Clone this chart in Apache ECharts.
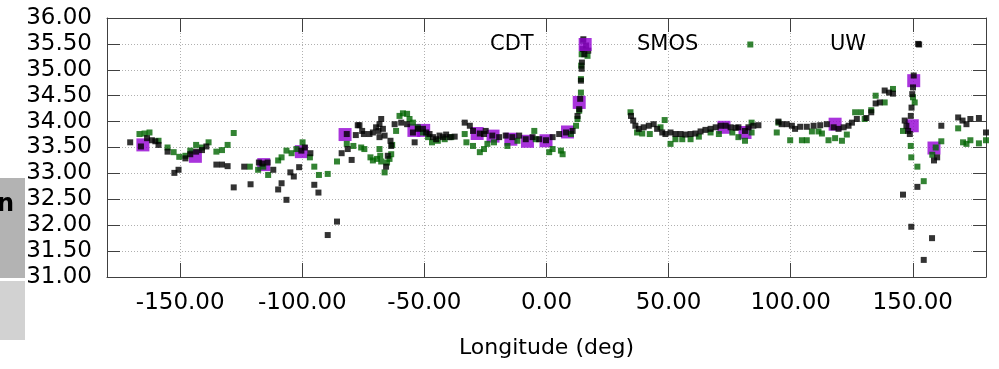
<!DOCTYPE html>
<html>
<head>
<meta charset="utf-8">
<script src="https://cdn.jsdelivr.net/npm/echarts@6.0.0/dist/echarts.min.js"></script>
<style>
  html, body { margin: 0; padding: 0; background: #fff; }
  #chart { width: 999px; height: 369px; }
</style>
</head>
<body>
<div id="chart"></div>
<script>
// tick labels
const lonTicks = [-150, -100, -50, 0, 50, 100, 150]
const salMin = 31
const salMax = 36
const salStep = 0.5

// [longitude, salinity]
const cdtPoints = [
  [-165.3, 33.55], [-143.8, 33.33], [-115.8, 33.17], [-100.4, 33.42], [-82.5, 33.75],
  [-54.3, 33.83], [-50.3, 33.83], [-28.4, 33.77], [-21.9, 33.72], [-14.6, 33.66],
  [-7.8, 33.62], [-0.2, 33.63], [8.6, 33.80], [13.4, 34.37], [72.7, 33.89],
  [81.3, 33.79], [118.2, 33.95], [149.8, 33.92], [150.4, 34.79], [158.7, 33.49]
]

const smosPoints = [
  [-166.7, 33.76], [-164.6, 33.77], [-162.6, 33.79], [-158.9, 33.63], [-155.2, 33.50],
  [-152.7, 33.41], [-150.4, 33.32], [-147.9, 33.34], [-145.9, 33.44], [-143.5, 33.55],
  [-141.1, 33.50], [-138.4, 33.60], [-135.2, 33.42], [-132.9, 33.45], [-130.6, 33.55],
  [-128.1, 33.78], [-121.5, 33.13], [-118.1, 33.07], [-116.0, 33.13], [-114.0, 32.97],
  [-109.9, 33.25], [-108.5, 33.31], [-106.5, 33.44], [-104.4, 33.39], [-102.4, 33.47],
  [-99.9, 33.60], [-96.9, 33.31], [-95.1, 33.13], [-93.2, 32.97], [-89.6, 32.99],
  [-85.8, 33.23], [-81.8, 33.57], [-79.1, 33.53], [-75.9, 33.50], [-74.6, 33.47],
  [-72.1, 33.31], [-71.1, 33.25], [-69.4, 33.28], [-68.4, 33.47], [-68.1, 33.34],
  [-67.7, 33.23], [-66.3, 33.02], [-65.3, 33.21], [-64.3, 33.28], [-63.6, 33.37],
  [-63.2, 33.55], [-61.6, 33.82], [-60.2, 34.11], [-58.8, 34.16], [-57.1, 34.15],
  [-56.1, 34.05], [-54.7, 33.98], [-52.7, 33.89], [-50.6, 33.79], [-48.5, 33.70],
  [-46.9, 33.60], [-44.5, 33.63], [-41.7, 33.66], [-39.0, 33.70], [-33.5, 33.76],
  [-32.8, 33.60], [-30.1, 33.53], [-27.3, 33.41], [-25.6, 33.47], [-24.2, 33.57],
  [-21.5, 33.60], [-16.0, 33.53], [-11.9, 33.63], [-5.0, 33.82], [-4.4, 33.66],
  [1.1, 33.41], [2.5, 33.47], [5.9, 33.44], [6.6, 33.37], [10.0, 33.76],
  [12.1, 33.92], [12.7, 34.05], [13.4, 34.21], [14.1, 34.56], [14.1, 34.82],
  [14.2, 35.08], [14.4, 35.30], [14.9, 35.56], [16.8, 35.27],
  [34.4, 34.18], [37.1, 33.79], [39.2, 33.77], [42.3, 33.76], [46.7, 33.89],
  [48.4, 34.03], [50.8, 33.57], [52.8, 33.66], [55.6, 33.66], [59.0, 33.66],
  [62.4, 33.71], [67.2, 33.79], [70.6, 33.76], [76.1, 33.79], [78.6, 33.70],
  [81.3, 33.63], [84.0, 33.98], [84.0, 33.79], [94.3, 33.79], [95.0, 33.98],
  [99.8, 33.64], [104.6, 33.64], [106.6, 33.64], [108.7, 33.81], [111.4, 33.81],
  [112.8, 33.77], [115.5, 33.64], [118.2, 33.68], [121.0, 33.63], [123.0, 33.75],
  [126.4, 34.18], [128.8, 34.18], [130.3, 34.05], [133.0, 34.22], [134.8, 34.50],
  [138.5, 34.37], [141.9, 34.63], [146.0, 33.82], [149.2, 33.53], [149.4, 33.31],
  [150.1, 34.47], [150.8, 34.37], [151.9, 33.13], [154.5, 32.85], [158.0, 33.36],
  [159.4, 33.50], [161.7, 33.62], [168.6, 33.87], [170.6, 33.60], [172.0, 33.57],
  [173.6, 33.64], [177.1, 33.58], [180.0, 33.64]
]

const uwPoints = [
  [-170.5, 33.60], [-166.1, 33.52], [-163.6, 33.68], [-161.6, 33.64], [-160.2, 33.62],
  [-158.9, 33.55], [-155.2, 33.42], [-152.4, 33.01], [-150.7, 33.07], [-147.9, 33.29],
  [-145.9, 33.37], [-143.5, 33.42], [-141.1, 33.45], [-139.3, 33.52], [-135.2, 33.17],
  [-132.9, 33.17], [-130.6, 33.14], [-128.1, 32.73], [-123.8, 33.13], [-121.2, 32.79],
  [-117.8, 33.21], [-116.4, 33.19], [-114.2, 33.21], [-111.9, 33.07], [-109.9, 32.69],
  [-108.5, 32.81], [-106.5, 32.49], [-104.9, 33.02], [-103.5, 32.94], [-101.3, 33.12],
  [-100.4, 33.44], [-99.0, 33.50], [-96.7, 33.39], [-95.1, 32.78], [-93.4, 32.63],
  [-89.6, 31.81], [-85.8, 32.07], [-83.9, 33.39], [-81.8, 33.76], [-81.4, 33.47],
  [-79.8, 33.26], [-78.1, 33.74], [-77.3, 33.93], [-76.6, 33.93], [-75.5, 33.82],
  [-74.8, 33.76], [-72.5, 33.76], [-71.1, 33.79], [-69.8, 33.89], [-68.4, 33.95],
  [-67.7, 34.05], [-68.8, 33.82], [-67.0, 33.86], [-66.3, 33.73], [-68.4, 33.70],
  [-63.9, 33.63], [-63.6, 33.53], [-65.0, 33.34], [-65.7, 33.13], [-62.2, 33.95],
  [-59.5, 33.98], [-57.1, 33.95], [-54.7, 33.79], [-54.0, 33.60], [-52.7, 33.86],
  [-50.6, 33.86], [-49.3, 33.79], [-47.9, 33.76], [-46.5, 33.70], [-45.2, 33.66],
  [-43.8, 33.73], [-42.4, 33.70], [-41.1, 33.75], [-39.7, 33.70], [-37.6, 33.71],
  [-33.5, 33.98], [-31.4, 33.92], [-30.1, 33.82], [-27.3, 33.77], [-25.6, 33.76],
  [-24.9, 33.82], [-22.2, 33.73], [-19.4, 33.70], [-16.7, 33.73], [-14.0, 33.70],
  [-11.2, 33.73], [-8.5, 33.66], [-5.7, 33.70], [-3.0, 33.66], [-0.2, 33.64],
  [2.5, 33.70], [5.2, 33.76], [8.0, 33.79], [10.7, 33.82], [12.7, 34.11],
  [13.4, 34.24], [13.8, 34.44], [14.1, 34.79], [14.4, 35.02], [14.5, 35.14],
  [14.8, 35.40], [15.1, 35.59], [15.5, 35.30], [16.2, 35.47], [17.1, 35.37],
  [34.6, 34.11], [35.5, 34.02], [36.4, 33.92], [37.8, 33.86], [39.8, 33.89],
  [41.9, 33.92], [43.9, 33.95], [45.3, 33.86], [47.4, 33.79], [48.7, 33.76],
  [50.8, 33.79], [52.8, 33.76], [54.9, 33.76], [56.9, 33.75], [59.0, 33.76],
  [61.0, 33.77], [63.1, 33.81], [65.1, 33.84], [67.2, 33.86], [69.3, 33.89],
  [71.3, 33.92], [73.4, 33.92], [75.4, 33.89], [77.5, 33.88], [78.6, 33.89],
  [81.3, 33.82], [82.7, 33.89], [84.7, 33.92], [86.8, 33.93], [95.0, 34.00],
  [96.3, 33.95], [98.4, 33.95], [100.5, 33.92], [101.8, 33.86], [103.9, 33.90],
  [106.6, 33.90], [109.4, 33.92], [112.1, 33.93], [114.8, 33.95], [117.6, 33.89],
  [119.6, 33.86], [121.7, 33.89], [123.7, 33.92], [125.1, 33.98], [127.1, 34.05],
  [131.0, 34.07], [133.0, 34.18], [134.8, 34.35], [136.5, 34.37], [138.5, 34.60],
  [140.3, 34.56], [141.9, 34.54], [146.0, 32.59], [146.7, 34.02], [147.4, 33.92],
  [148.1, 33.82], [148.8, 33.76], [149.2, 34.11], [149.4, 31.97], [149.5, 34.27],
  [149.8, 34.53], [150.1, 34.66], [150.4, 34.89], [151.9, 32.74], [152.2, 35.50],
  [154.5, 31.33], [157.9, 31.75], [158.7, 33.25], [160.0, 33.31], [161.7, 33.92],
  [168.6, 34.08], [170.4, 34.02], [172.0, 33.95], [173.6, 34.05], [177.1, 34.07],
  [180.0, 33.79]
]

const FONT = 'DejaVu Sans'
const frame = '#404040'

const chart = echarts.init(document.getElementById('chart'))

const legendBox = (name, left, top, size, pad) => ({
  data: [name],
  left: left,
  top: top,
  padding: 0,
  align: 'right',
  itemWidth: size,
  itemHeight: size,
  icon: 'rect',
  selectedMode: false,
  textStyle: { fontFamily: FONT, fontSize: 21, color: '#000', padding: [0, pad, 0, 0] }
})

chart.setOption({
  animation: false,
  backgroundColor: '#fff',
  grid: { left: 107, right: 13, top: 18, bottom: 92, containLabel: false, outerBoundsMode: 'none' },
  legend: [
    legendBox('CDT', 490, 34, 13, 40),
    legendBox('SMOS', 637, 34, 6, 44),
    legendBox('UW', 830, 34, 6, 45)
  ],
  xAxis: [
    {
      type: 'value',
      min: -180,
      max: 180,
      position: 'bottom',
      name: 'Longitude (deg)',
      nameLocation: 'middle',
      nameGap: 60,
      nameTextStyle: { fontFamily: FONT, fontSize: 22, color: '#000' },
      axisLine: { onZero: false, lineStyle: { color: frame, width: 1 } },
      axisTick: { inside: true, length: 14, customValues: lonTicks, lineStyle: { color: frame } },
      axisLabel: {
        customValues: lonTicks,
        margin: 15,
        fontFamily: FONT,
        fontSize: 23,
        color: '#000',
        formatter: v => v.toFixed(2)
      },
      splitLine: { show: true, lineStyle: { color: '#b0b0b0', type: [1, 2] } }
    },
    {
      type: 'value',
      min: -180,
      max: 180,
      position: 'top',
      axisLine: { onZero: false, lineStyle: { color: frame, width: 1 } },
      axisTick: { inside: true, length: 14, customValues: lonTicks, lineStyle: { color: frame } },
      axisLabel: { show: false },
      splitLine: { show: false }
    }
  ],
  yAxis: [
    {
      type: 'value',
      min: salMin,
      max: salMax,
      interval: salStep,
      position: 'left',
      axisLine: { show: true, onZero: false, lineStyle: { color: frame, width: 1 } },
      axisTick: { show: true, inside: true, length: 13, lineStyle: { color: frame } },
      axisLabel: { margin: 15, fontFamily: FONT, fontSize: 23, color: '#000', formatter: v => v.toFixed(2) },
      splitLine: { show: true, lineStyle: { color: '#b0b0b0', type: [1, 2] } }
    },
    {
      type: 'value',
      min: salMin,
      max: salMax,
      interval: salStep,
      position: 'right',
      axisLine: { show: true, onZero: false, lineStyle: { color: frame, width: 1 } },
      axisTick: { show: true, inside: true, length: 13, lineStyle: { color: frame } },
      axisLabel: { show: false },
      splitLine: { show: false }
    }
  ],
  series: [
    { name: 'CDT', type: 'scatter', symbol: 'rect', symbolSize: 13, itemStyle: { color: '#9400d3' }, data: cdtPoints },
    { name: 'SMOS', type: 'scatter', symbol: 'rect', symbolSize: 6, itemStyle: { color: '#006400' }, data: smosPoints },
    { name: 'UW', type: 'scatter', symbol: 'rect', symbolSize: 6, itemStyle: { color: '#000' }, data: uwPoints }
  ],
  graphic: [
    // bits of the neighbouring window showing at the left edge
    { type: 'rect', shape: { x: 0, y: 178, width: 25, height: 100 }, style: { fill: '#b3b3b3' } },
    { type: 'rect', shape: { x: 0, y: 281, width: 25, height: 59 }, style: { fill: '#d2d2d2' } },
    { type: 'text', x: -3, y: 193, style: { text: 'n', font: 'bold 24px "DejaVu Sans"', fill: '#000' } }
  ]
})
</script>
</body>
</html>
